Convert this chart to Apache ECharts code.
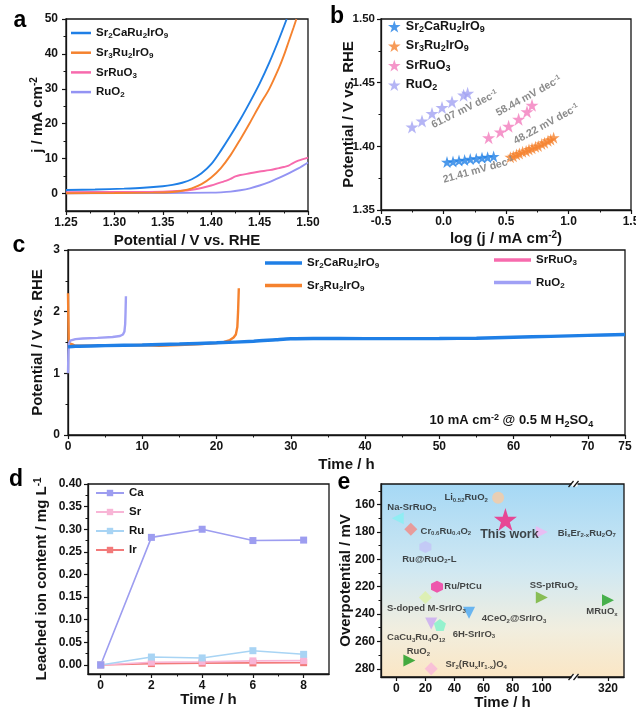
<!DOCTYPE html>
<html>
<head>
<meta charset="utf-8">
<script src="https://cdn.jsdelivr.net/npm/echarts@6/dist/echarts.min.js"></script>
<style>
  html, body { margin: 0; padding: 0; background: #fff; }
  #chart { width: 636px; height: 707px; }
</style>
</head>
<body>
<div id="chart"></div>
<script>
// ---------- (a) LSV curves: [potential / V, j / mA cm-2] ----------
const lsvSr2CaRu2IrO9 = [[1.25,1.0],[1.28,1.15],[1.31,1.4],[1.33,1.65],[1.35,2.1],[1.36,2.5],[1.37,3.1],[1.38,4.1],[1.39,5.8],[1.40,8.4],[1.41,12.3],[1.42,16.6],[1.43,21.2],[1.44,26.2],[1.45,31.5],[1.46,37.5],[1.47,44.2],[1.478,50]];
const lsvSr3Ru2IrO9 = [[1.25,0.1],[1.30,0.15],[1.34,0.25],[1.36,0.45],[1.37,0.8],[1.38,1.5],[1.39,2.7],[1.40,4.6],[1.41,7.3],[1.42,11.0],[1.43,15.5],[1.44,20.3],[1.45,25.3],[1.46,30.0],[1.47,36.0],[1.475,39.5],[1.48,43.5],[1.485,47.5],[1.488,50]];
const lsvSrRuO3 = [[1.25,0.4],[1.30,0.45],[1.35,0.55],[1.37,0.8],[1.38,1.1],[1.39,1.6],[1.40,2.3],[1.41,3.2],[1.415,3.6],[1.42,4.2],[1.425,4.9],[1.43,5.3],[1.44,5.8],[1.45,6.3],[1.46,6.7],[1.47,7.3],[1.475,7.6],[1.48,8.0],[1.485,8.8],[1.49,9.4],[1.50,10.3]];
const lsvRuO2 = [[1.25,0.1],[1.35,0.15],[1.40,0.25],[1.41,0.35],[1.42,0.55],[1.43,0.95],[1.44,1.5],[1.45,2.3],[1.46,3.3],[1.47,4.5],[1.48,5.8],[1.49,7.2],[1.50,8.9]];
const lsvYTicks = [0, 10, 20, 30, 40, 50];

// ---------- (b) Tafel plots: [log j, potential / V] ----------
const tafelSr2CaRu2IrO9 = [[0.028,1.3876],[0.076,1.3880],[0.124,1.3888],[0.169,1.3892],[0.214,1.3900],[0.262,1.3903],[0.308,1.3910],[0.353,1.3914],[0.401,1.3921]];
const tafelSr3Ru2IrO9 = [[0.535,1.3915],[0.558,1.3922],[0.584,1.3936],[0.607,1.3944],[0.633,1.3957],[0.661,1.3963],[0.684,1.3976],[0.708,1.3984],[0.736,1.3997],[0.758,1.4003],[0.786,1.4019],[0.808,1.4028],[0.836,1.4044],[0.858,1.4053],[0.881,1.4068]];
const tafelSrRuO3 = [[0.361,1.4068],[0.454,1.4113],[0.521,1.4158],[0.601,1.4213],[0.668,1.4271],[0.708,1.4323]];
const tafelRuO2 = [[-0.252,1.4152],[-0.172,1.4199],[-0.092,1.4258],[-0.012,1.4305],[0.068,1.4349],[0.161,1.4402],[0.193,1.4416]];
const tafelSlopes = { Sr2CaRu2IrO9: '21.41', Sr3Ru2IrO9: '48.22', SrRuO3: '58.44', RuO2: '61.07' };

// ---------- (c) chronopotentiometry: [time / h, potential / V] ----------
const chronoSr2CaRu2IrO9 = [[0,1.43],[1,1.44],[5,1.45],[10,1.46],[15,1.475],[20,1.495],[25,1.52],[28,1.545],[30,1.56],[33,1.565],[40,1.563],[50,1.565],[55,1.57],[60,1.585],[65,1.60],[70,1.615],[75,1.63]];
const chronoSr3Ru2IrO9 = [[0,2.3],[0.05,1.9],[0.1,1.55],[0.2,1.485],[0.6,1.47],[0.9,1.45],[5,1.45],[10,1.46],[12.3,1.445],[15,1.46],[18,1.475],[20,1.49],[21,1.51],[21.8,1.54],[22.3,1.58],[22.6,1.63],[22.8,1.75],[22.9,2.0],[23,2.38]];
const chronoSrRuO3 = [];
const chronoRuO2 = [[0,1.0],[0.05,1.3],[0.1,1.48],[0.3,1.53],[1,1.555],[2,1.565],[4,1.575],[6,1.59],[7,1.605],[7.4,1.63],[7.6,1.68],[7.7,1.8],[7.75,2.0],[7.8,2.25]];

// ---------- (d) leached ions ----------
const leachTime = [0, 2, 4, 6, 8];
const leachCa = [0, 0.282, 0.300, 0.275, 0.276];
const leachSr = [0, 0.006, 0.007, 0.009, 0.0095];
const leachRu = [0, 0.0175, 0.0155, 0.0315, 0.0235];
const leachIr = [0, 0.003, 0.004, 0.0045, 0.005];
const leachYTicks = [0, 0.05, 0.10, 0.15, 0.20, 0.25, 0.30, 0.35, 0.40];
const leachXTicks = [0, 2, 4, 6, 8];

// ---------- (e) comparison with reported catalysts ----------
const refNames = ['Li0.52RuO2', 'Na-SrRuO3', 'This work', 'Cr0.6Ru0.4O2', 'BixEr2-xRu2O7', 'Ru@RuO2-L', 'Ru/PtCu', 'S-doped M-SrIrO3', 'SS-ptRuO2', 'MRuOx', '4CeO2@SrIrO3', 'CaCu3Ru4O12', '6H-SrIrO3', 'RuO2', 'Sr2(RuxIr1-x)O4'];
const refTime = [70, 1, 75, 10, 100, 20, 28, 20, 100, 320, 50, 24, 30, 9, 24];
const refOverpotential = [155, 170, 171, 178, 180, 191, 220, 228, 228, 230, 239, 247, 248, 274, 280];
const refYTicks = [160, 180, 200, 220, 240, 260, 280];
const refXTicks = [0, 20, 40, 60, 80, 100, 320];

// ---------- shared styling ----------
const FONT = '"Liberation Sans", Arial, sans-serif';
const INK = '#141414';
const STAR = 'path://M50,0 L61.2,34.5 L97.6,34.5 L68.2,55.9 L79.4,90.5 L50,69.1 L20.6,90.5 L31.8,55.9 L2.4,34.5 L38.8,34.5 Z';
const HEX = 'path://M50,0 L93.3,25 L93.3,75 L50,100 L6.7,75 L6.7,25 Z';
const PENT = 'path://M50,0 L97.6,34.5 L79.4,90.5 L20.6,90.5 L2.4,34.5 Z';

function rich(fs, color) {
  const small = Math.round(fs * 0.68);
  const shift = Math.round(fs * 0.5);
  return {
    s: { fontSize: small, fontWeight: 'bold', fontFamily: FONT, color: color, padding: [shift, 0, 0, 0] },
    u: { fontSize: small, fontWeight: 'bold', fontFamily: FONT, color: color, padding: [0, 0, shift, 0] }
  };
}
function richFill(fs, color) {
  const small = Math.round(fs * 0.68);
  const shift = Math.round(fs * 0.5);
  return {
    s: { fontSize: small, fontWeight: 'bold', fontFamily: FONT, fill: color, padding: [shift, 0, 0, 0] },
    u: { fontSize: small, fontWeight: 'bold', fontFamily: FONT, fill: color, padding: [0, 0, shift, 0] }
  };
}
// chemical formula: numbers become subscripts
function formula(name) { return name.replace(/(\d+)/g, '{s|$1}'); }

function valueAxis(o) {
  return {
    type: 'value',
    gridIndex: o.grid,
    min: o.min, max: o.max,
    interval: o.interval,
    inverse: !!o.inverse,
    position: o.position,
    name: o.name, nameLocation: 'middle', nameGap: o.nameGap, nameMoveOverlap: false,
    nameTextStyle: { color: INK, fontSize: 15, fontWeight: 'bold', fontFamily: FONT, rich: rich(15, INK) },
    axisLine: { show: true, onZero: false, lineStyle: { color: INK, width: 1.3 } },
    axisTick: { show: true, inside: false, length: 4, lineStyle: { color: INK, width: 1.2 }, customValues: o.ticks },
    minorTick: { show: !!o.minor, splitNumber: 2, length: 2.5, lineStyle: { color: INK, width: 1 } },
    axisLabel: { color: INK, fontSize: o.labelSize || 12, fontWeight: 'bold', fontFamily: FONT, margin: o.margin || 6,
      customValues: o.ticks, formatter: o.fmt, showMinLabel: true, showMaxLabel: true },
    splitLine: { show: false }
  };
}
function minorAxis(grid, min, max, values, position, inverse) {
  return {
    type: 'value', gridIndex: grid, min: min, max: max, position: position, offset: 0, inverse: !!inverse,
    axisLine: { show: false, onZero: false }, axisLabel: { show: false }, splitLine: { show: false },
    axisTick: { show: true, inside: false, length: 2.5, customValues: values, lineStyle: { color: INK, width: 1 } },
    silent: true
  };
}

// broken time axis of panel e: 0..122 h drawn linearly, then 300..330 h after the break
const BREAK_FROM = 122, BREAK_TO = 300, RIGHT_SCALE = 1.175;
const toBroken = t => t <= BREAK_FROM ? t : BREAK_FROM + (t - BREAK_TO) * RIGHT_SCALE;
const fromBroken = v => v <= BREAK_FROM + 1e-6 ? v : BREAK_TO + (v - BREAK_FROM) / RIGHT_SCALE;

const grids = [
  { left: 66, top: 19, width: 242, height: 192 },   // a
  { left: 381, top: 19, width: 250, height: 191 },  // b
  { left: 68, top: 250, width: 557, height: 185 },  // c
  { left: 88, top: 484, width: 241, height: 190 },  // d
  { left: 381, top: 484, width: 243, height: 193,   // e
    backgroundColor: { type: 'linear', x: 0, y: 0, x2: 0, y2: 1,
      colorStops: [{ offset: 0, color: '#a5d8f5' }, { offset: 0.45, color: '#d0e8f2' }, { offset: 0.75, color: '#f1eedf' }, { offset: 1, color: '#fbe6c4' }] } }
].map(g => Object.assign({ show: true, borderColor: INK, borderWidth: 1.3, backgroundColor: 'transparent', containLabel: false, outerBoundsMode: 'none' }, g));

const xAxes = [
  valueAxis({ grid: 0, min: 1.25, max: 1.50, interval: 0.05, minor: true, name: 'Potential / V vs. RHE', nameGap: 22, fmt: v => v.toFixed(2) }),
  valueAxis({ grid: 1, min: -0.5, max: 1.5, interval: 0.5, minor: true, name: 'log (j / mA cm{u|-2})', nameGap: 20, fmt: v => v.toFixed(1) }),
  valueAxis({ grid: 2, min: 0, max: 75, interval: 10, minor: true, name: 'Time / h', nameGap: 22, fmt: v => String(v) }),
  valueAxis({ grid: 3, min: -0.5, max: 9, ticks: leachXTicks, name: 'Time / h', nameGap: 18, fmt: v => String(v) }),
  valueAxis({ grid: 4, min: -10.5, max: 156.5, ticks: refXTicks.map(toBroken), name: 'Time / h', nameGap: 18, fmt: v => String(Math.round(fromBroken(v))) }),
  minorAxis(3, -0.5, 9, [1, 3, 5, 7], 'bottom')
];
const yAxes = [
  valueAxis({ grid: 0, min: -5, max: 50, ticks: lsvYTicks, name: 'j / mA cm{u|-2}', nameGap: 19, margin: 8, fmt: v => String(v) }),
  valueAxis({ grid: 1, min: 1.35, max: 1.50, interval: 0.05, minor: true, name: 'Potential / V vs. RHE', nameGap: 25, margin: 6, labelSize: 11.5, fmt: v => v.toFixed(2) }),
  valueAxis({ grid: 2, min: 0, max: 3, interval: 1, minor: true, name: 'Potential / V vs. RHE', nameGap: 23, margin: 8, fmt: v => String(v) }),
  valueAxis({ grid: 3, min: -0.02, max: 0.40, ticks: leachYTicks, name: 'Leached ion content / mg L{u|-1}', nameGap: 37, margin: 6, fmt: v => v.toFixed(2) }),
  valueAxis({ grid: 4, min: 145, max: 286, inverse: true, ticks: refYTicks, name: 'Overpotential / mV', nameGap: 28, margin: 6, fmt: v => String(v) }),
  minorAxis(0, -5, 50, [5, 15, 25, 35, 45], 'left'),
  minorAxis(3, -0.02, 0.40, [0.025, 0.075, 0.125, 0.175, 0.225, 0.275, 0.325, 0.375], 'left'),
  minorAxis(4, 145, 286, [150, 170, 190, 210, 230, 250, 270], 'left', true)
];

const COL = { blue: '#1f7fe6', orange: '#f5822e', pink: '#f76aad', lav: '#9393f3' };

const series = [];
// (a)
[['a:Sr2CaRu2IrO9', lsvSr2CaRu2IrO9, COL.blue], ['a:Sr3Ru2IrO9', lsvSr3Ru2IrO9, COL.orange],
 ['a:SrRuO3', lsvSrRuO3, COL.pink], ['a:RuO2', lsvRuO2, COL.lav]].reverse().forEach(([n, d, c]) => {
  series.push({ type: 'line', name: n, xAxisIndex: 0, yAxisIndex: 0, data: d, symbol: 'none', smooth: 0.3,
    lineStyle: { color: c, width: 1.9 }, itemStyle: { color: c } });
});
// (b)
[['b:Sr2CaRu2IrO9', tafelSr2CaRu2IrO9, COL.blue, 12], ['b:Sr3Ru2IrO9', tafelSr3Ru2IrO9, COL.orange, 12],
 ['b:SrRuO3', tafelSrRuO3, '#f37cbd', 13], ['b:RuO2', tafelRuO2, '#a3a3f2', 13]].forEach(([n, d, c, s]) => {
  series.push({ type: 'scatter', name: n, xAxisIndex: 1, yAxisIndex: 1, data: d, symbol: STAR, symbolSize: s,
    itemStyle: { color: c } });
});
// (c)
series.push({ type: 'line', name: 'c:Sr3Ru2IrO9', xAxisIndex: 2, yAxisIndex: 2, data: chronoSr3Ru2IrO9, symbol: 'none', z: 2,
  lineStyle: { color: COL.orange, width: 2.4 }, itemStyle: { color: COL.orange } });
series.push({ type: 'line', name: 'c:RuO2', xAxisIndex: 2, yAxisIndex: 2, data: chronoRuO2, symbol: 'none', z: 2,
  lineStyle: { color: '#a0a0f5', width: 2.4 }, itemStyle: { color: '#a0a0f5' } });
series.push({ type: 'line', name: 'c:SrRuO3', xAxisIndex: 2, yAxisIndex: 2, data: chronoSrRuO3, symbol: 'none', z: 2,
  lineStyle: { color: COL.pink, width: 2.4 }, itemStyle: { color: COL.pink } });
series.push({ type: 'line', name: 'c:Sr2CaRu2IrO9', xAxisIndex: 2, yAxisIndex: 2, data: chronoSr2CaRu2IrO9, symbol: 'none', z: 3, smooth: 0.3,
  lineStyle: { color: COL.blue, width: 3.4 }, itemStyle: { color: COL.blue } });
// (d)
[['d:Ir', leachIr, '#f27a7a'], ['d:Sr', leachSr, '#f8b5d6'], ['d:Ru', leachRu, '#a8d4f4'], ['d:Ca', leachCa, '#9d9df0']].forEach(([n, v, c]) => {
  series.push({ type: 'line', name: n, xAxisIndex: 3, yAxisIndex: 3, data: leachTime.map((t, i) => [t, v[i]]),
    symbol: 'rect', symbolSize: 7, showSymbol: true, lineStyle: { color: c, width: 1.6 }, itemStyle: { color: c } });
});
// (e) marker appearance and label placement per catalyst
const refLook = {
  'Li0.52RuO2':      { symbol: 'circle', size: 12, color: '#f9caa3', label: 'Li{s|0.52}RuO{s|2}', off: [-32, 0] },
  'Na-SrRuO3':       { symbol: 'triangle', rot: 90, size: 12, color: '#86f0f2', label: 'Na-SrRuO{s|3}', off: [14, -11] },
  'This work':       { symbol: STAR, size: 23, color: '#f2217d', label: 'This work', off: [4, 15], big: true },
  'Cr0.6Ru0.4O2':    { symbol: 'diamond', size: 13, color: '#f38a84', label: 'Cr{s|0.6}Ru{s|0.4}O{s|2}', off: [35, 2] },
  'BixEr2-xRu2O7':   { symbol: 'triangle', rot: -90, size: 12, color: '#f4b4f2', label: 'Bi{s|x}Er{s|2-x}Ru{s|2}O{s|7}', off: [45, 1] },
  'Ru@RuO2-L':       { symbol: HEX, size: 12, color: '#c3c3f6', label: 'Ru@RuO{s|2}-L', off: [4, 12] },
  'Ru/PtCu':         { symbol: HEX, size: 12, color: '#f2319c', label: 'Ru/PtCu', off: [26, 0] },
  'S-doped M-SrIrO3':{ symbol: 'diamond', size: 13, color: '#dcf0a6', label: 'S-doped M-SrIrO{s|3}', off: [1, 11] },
  'SS-ptRuO2':       { symbol: 'triangle', rot: -90, size: 12, color: '#72b12f', label: 'SS-ptRuO{s|2}', off: [12, -12] },
  'MRuOx':           { symbol: 'triangle', rot: -90, size: 12, color: '#21a124', label: 'MRuO{s|x}', off: [-6, 11] },
  '4CeO2@SrIrO3':    { symbol: 'triangle', rot: 180, size: 12, color: '#4aa7f2', label: '4CeO{s|2}@SrIrO{s|3}', off: [45, 6] },
  'CaCu3Ru4O12':     { symbol: 'triangle', rot: 180, size: 12, color: '#c9a9f3', label: 'CaCu{s|3}Ru{s|4}O{s|12}', off: [-15, 14] },
  '6H-SrIrO3':       { symbol: PENT, size: 12, color: '#7ef2c9', label: '6H-SrIrO{s|3}', off: [34, 9] },
  'RuO2':            { symbol: 'triangle', rot: -90, size: 12, color: '#179a1c', label: 'RuO{s|2}', off: [9, -9] },
  'Sr2(RuxIr1-x)O4': { symbol: 'diamond', size: 13, color: '#f9b6da', label: 'Sr{s|2}(Ru{s|x}Ir{s|1-x})O{s|4}', off: [45, -4] }
};
series.push({
  type: 'scatter', name: 'e:refs', xAxisIndex: 4, yAxisIndex: 4,
  data: refNames.map((n, i) => {
    const k = refLook[n];
    const fs = k.big ? 12.5 : 9.5;
    return {
      name: n, value: [toBroken(refTime[i]), refOverpotential[i]],
      symbol: k.symbol, symbolSize: k.size, symbolRotate: k.rot || 0,
      itemStyle: { color: k.color },
      label: { show: true, position: 'inside', offset: k.off, formatter: k.label, color: '#1a1a1a',
        fontSize: fs, fontWeight: 'bold', fontFamily: FONT, rich: rich(fs, '#1a1a1a') }
    };
  })
});

function legend(o, fs) {
  return Object.assign({
    orient: 'vertical', padding: 0, selectedMode: false,
    formatter: n => formula(n.slice(2)),
    textStyle: { color: INK, fontSize: fs, fontWeight: 'bold', fontFamily: FONT, rich: rich(fs, INK) }
  }, o);
}
const legends = [
  legend({ left: 71, top: 27, icon: 'rect', itemWidth: 20, itemHeight: 2.5, itemGap: 6.7,
    data: ['a:Sr2CaRu2IrO9', 'a:Sr3Ru2IrO9', 'a:SrRuO3', 'a:RuO2'] }, 11.5),
  legend({ left: 388, top: 20, itemWidth: 13, itemHeight: 12, itemGap: 5.5,
    data: ['b:Sr2CaRu2IrO9', 'b:Sr3Ru2IrO9', 'b:SrRuO3', 'b:RuO2'] }, 12.5),
  legend({ left: 265, top: 257, icon: 'rect', itemWidth: 37, itemHeight: 3.5, itemGap: 9.5,
    data: ['c:Sr2CaRu2IrO9', 'c:Sr3Ru2IrO9'] }, 11.5),
  legend({ left: 494, top: 254, icon: 'rect', itemWidth: 37, itemHeight: 3.5, itemGap: 9.5,
    data: ['c:SrRuO3', 'c:RuO2'] }, 11.5),
  legend({ left: 95, top: 487, itemWidth: 28, itemHeight: 8, itemGap: 7, data: ['d:Ca', 'd:Sr', 'd:Ru', 'd:Ir'] }, 11.5)
];

const chart = echarts.init(document.getElementById('chart'), null, { renderer: 'canvas' });
chart.setOption({
  animation: false,
  backgroundColor: '#fff',
  grid: grids,
  xAxis: xAxes,
  yAxis: yAxes,
  legend: legends,
  series: series
});

// annotations placed through the axes of each panel
const px = (g, p) => chart.convertToPixel({ gridIndex: g }, p);
const graphics = [];
[['a', 20, 21], ['b', 337, 17], ['c', 19, 246], ['d', 16, 480], ['e', 344, 483]].forEach(([t, x, y]) => {
  graphics.push({ type: 'text', x: x, y: y, z: 50,
    style: { text: t, font: 'bold 23px ' + FONT, fill: '#000', align: 'center', verticalAlign: 'middle' } });
});
// Tafel slope labels along each fit: anchor in data units and tilt in radians
const slopeAnchor = {
  RuO2: [[0.170, 1.4290], 0.46],
  SrRuO3: [[0.682, 1.4394], 0.50],
  Sr3Ru2IrO9: [[0.823, 1.4173], 0.50],
  Sr2CaRu2IrO9: [[0.278, 1.3812], 0.27]
};
Object.keys(tafelSlopes).forEach(k => {
  const p = px(1, slopeAnchor[k][0]);
  graphics.push({ type: 'text', x: p[0], y: p[1], rotation: slopeAnchor[k][1], z: 50,
    style: { text: tafelSlopes[k] + ' mV dec{u|-1}', font: 'bold 10.5px ' + FONT, fill: '#8b8b8b',
      align: 'center', verticalAlign: 'middle', rich: richFill(10.5, '#8b8b8b') } });
});
// test condition of panel c
const pc = px(2, [59.7, 0.23]);
graphics.push({ type: 'text', x: pc[0], y: pc[1], z: 50,
  style: { text: '10 mA cm{u|-2} @ 0.5 M H{s|2}SO{s|4}', font: 'bold 13px ' + FONT, fill: INK,
    align: 'center', verticalAlign: 'middle', rich: richFill(13, INK) } });
// break marks on the time axis of panel e
[145, 286].forEach(v => {
  const p = px(4, [BREAK_FROM + 0.5, v]);
  graphics.push({ type: 'rect', z: 60, shape: { x: p[0] - 3, y: p[1] - 2.5, width: 6, height: 5 }, style: { fill: '#fff' } });
  graphics.push({ type: 'line', z: 61, shape: { x1: p[0] - 6, y1: p[1] + 3, x2: p[0] - 1, y2: p[1] - 3 }, style: { stroke: INK, lineWidth: 1.2 } });
  graphics.push({ type: 'line', z: 61, shape: { x1: p[0] - 1, y1: p[1] + 3, x2: p[0] + 4, y2: p[1] - 3 }, style: { stroke: INK, lineWidth: 1.2 } });
});
chart.setOption({ graphic: graphics });
</script>
</body>
</html>
